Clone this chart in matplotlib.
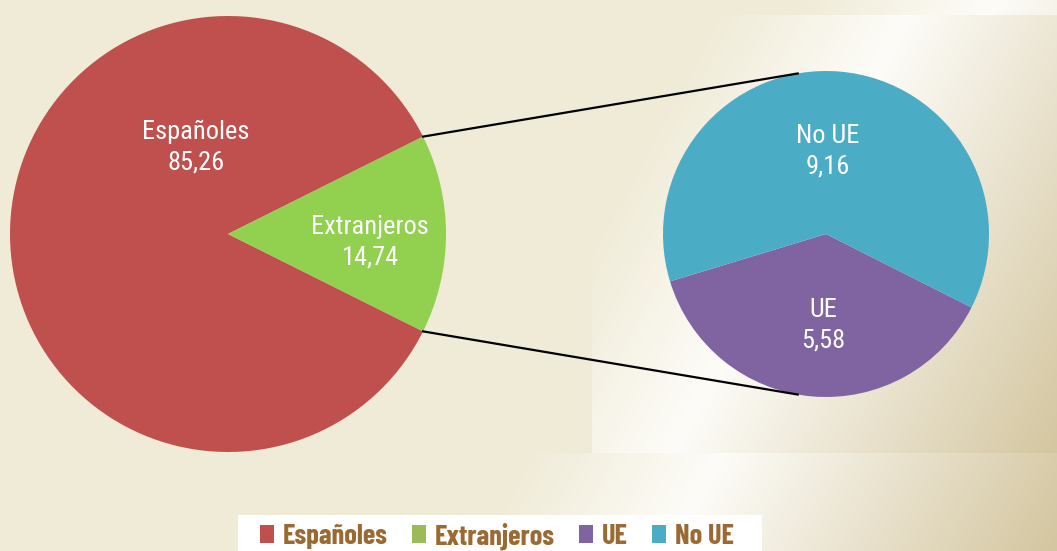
import numpy as np
import matplotlib
matplotlib.use("Agg")
import matplotlib.pyplot as plt
from matplotlib.patches import Patch, Rectangle

# data
main_labels = ["Españoles", "Extranjeros"]
main_values = [85.26, 14.74]
main_colors = ["#c0504d", "#92d050"]

sub_labels = ["UE", "No UE"]
sub_values = [5.58, 9.16]
sub_colors = ["#8064a2", "#4bacc6"]

legend_labels = ["Españoles", "Extranjeros", "UE", "No UE"]
legend_colors = ["#c0504d", "#9bbb59", "#8064a2", "#4bacc6"]

W, H = 1057, 551
FONT = ["Roboto Condensed", "DejaVu Sans"]
LEG_FONT = ["Barlow Condensed", "Roboto Condensed", "DejaVu Sans"]

fig = plt.figure(figsize=(W / 100, H / 100), dpi=100)
ax = fig.add_axes([0, 0, 1, 1])

# background: flat beige, with a light/tan sheen on the right-hand panel
yy, xx = np.mgrid[0:H, 0:W].astype(float)
beige = np.array([240, 235, 215]) / 255
white = np.array([253, 252, 248]) / 255
tan = np.array([212, 198, 160]) / 255
s = xx + 0.54 * yy
off = np.where(yy < 15, 80, np.where(yy > 452, 50, 0)).astype(float)
off[(yy >= 15) & (yy <= 452) & (xx < 592)] = 5000
s = s - off
t1 = np.clip((s - 720) / (916 - 720), 0, 1)[..., None]
t2 = np.clip((s - 916) / (1300 - 916), 0, 1)[..., None]
bg = beige * (1 - t1) + white * t1
bg = bg * (1 - t2) + tan * t2
ax.imshow(bg, extent=(0, W, 0, H), origin="upper", zorder=0)

# main pie
main_c, main_r = (228, H - 234), 218
start_main = main_values[1] / sum(main_values) * 360 / 2
ax.pie(main_values, colors=main_colors, startangle=start_main,
       center=main_c, radius=main_r, frame=True,
       wedgeprops=dict(linewidth=0))

# sub pie
sub_c, sub_r = (826, H - 234), 163
ax.pie(sub_values, colors=sub_colors, startangle=196.9,
       center=sub_c, radius=sub_r, frame=True,
       wedgeprops=dict(linewidth=0))

# connector lines from the Extranjeros wedge edges to the sub pie
a = np.deg2rad(start_main)
for sign, ang in [(1, 100), (-1, 260)]:
    x0 = main_c[0] + main_r * np.cos(a)
    y0 = main_c[1] + sign * main_r * np.sin(a)
    x1 = sub_c[0] + sub_r * np.cos(np.deg2rad(ang))
    y1 = sub_c[1] + sub_r * np.sin(np.deg2rad(ang))
    ax.plot([x0, x1], [y0, y1], color="black", lw=1.6, zorder=1)

def fmt(v):
    return f"{v:.2f}".replace(".", ",")

label_pos = {
    "Españoles": (196, H - 147),
    "Extranjeros": (370, H - 242),
    "UE": (823, H - 325),
    "No UE": (828, H - 151),
}
for lab, val in zip(main_labels + sub_labels, main_values + sub_values):
    x, y = label_pos[lab]
    ax.text(x, y, f"{lab}\n{fmt(val)}", color="white", ha="center", va="center",
            fontsize=19, family=FONT, linespacing=1.32, zorder=5)

ax.set_xlim(0, W)
ax.set_ylim(0, H)
ax.set_aspect("auto")
ax.axis("off")

# legend on a white strip at the bottom
fig.patches.append(Rectangle((238 / W, 0), (762 - 238) / W, (H - 515) / H,
                             transform=fig.transFigure, facecolor="white",
                             edgecolor="none", zorder=3))
handles = [Patch(facecolor=c, edgecolor="none") for c in legend_colors]
leg = fig.legend(handles, legend_labels, loc="lower center", ncol=4,
                 bbox_to_anchor=(497 / W, -10 / H), frameon=False,
                 prop=dict(family=LEG_FONT, weight="bold", size=20.5),
                 labelcolor="#9b6a32", handlelength=0.5, handleheight=0.55,
                 handletextpad=0.3, columnspacing=0.85, borderaxespad=0)
leg.set_zorder(4)

fig.savefig("out.png", dpi=100)
